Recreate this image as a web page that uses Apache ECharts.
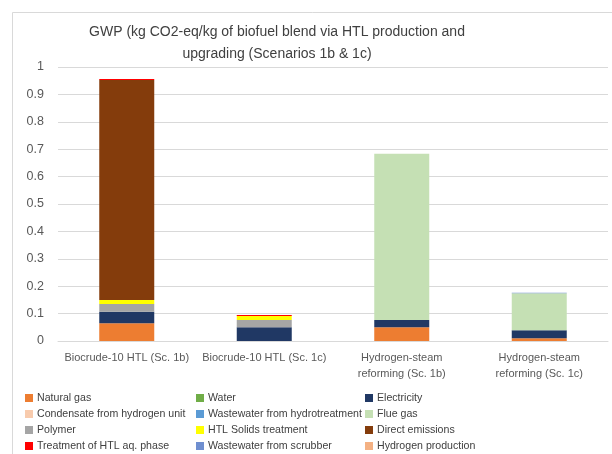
<!DOCTYPE html>
<html><head><meta charset="utf-8">
<script src="https://cdn.jsdelivr.net/npm/echarts@6/dist/echarts.min.js"></script>
<style>html,body{margin:0;padding:0;background:#fff}#c{width:612px;height:454px}</style>
</head><body><div id="c"></div>
<script>
const categories = ['Biocrude-10 HTL (Sc. 1b)', 'Biocrude-10 HTL (Sc. 1c)', 'Hydrogen-steam\nreforming (Sc. 1b)', 'Hydrogen-steam\nreforming (Sc. 1c)'];
const naturalGas = [0.065, 0, 0.050, 0.010];
const water = [0, 0, 0, 0];
const electricity = [0.042, 0.050, 0.027, 0.029];
const condensate = [0, 0, 0, 0];
const wastewaterHydro = [0, 0, 0, 0];
const flueGas = [0, 0, 0.606, 0.135];
const polymer = [0.028, 0.027, 0, 0];
const htlSolids = [0.015, 0.014, 0, 0];
const directEmissions = [0.803, 0, 0, 0];
const treatmentAq = [0.003, 0.004, 0, 0];
const wastewaterScrubber = [0, 0, 0, 0.002];
const hydrogenProduction = [0, 0, 0, 0];
const yTicks = [0, 0.1, 0.2, 0.3, 0.4, 0.5, 0.6, 0.7, 0.8, 0.9, 1];

const seriesDefs = [
  ['Natural gas', naturalGas, '#ED7D31'],
  ['Water', water, '#70AD47'],
  ['Electricity', electricity, '#203864'],
  ['Condensate from hydrogen unit', condensate, '#F8CBAD'],
  ['Wastewater from hydrotreatment', wastewaterHydro, '#5B9BD5'],
  ['Flue gas', flueGas, '#C5E0B4'],
  ['Polymer', polymer, '#A5A5A5'],
  ['HTL Solids treatment', htlSolids, '#FFFF00'],
  ['Direct emissions', directEmissions, '#843C0C'],
  ['Treatment of HTL aq. phase', treatmentAq, '#FF0000'],
  ['Wastewater from scrubber', wastewaterScrubber, '#6F8FD0'],
  ['Hydrogen production', hydrogenProduction, '#F4B183']
];
const FONT = 'Liberation Sans';
const TXT = '#595959';
const legendCol = (names, left) => ({
  orient: 'vertical', left: left, top: 390, height: 70, padding: 0,
  itemWidth: 8, itemHeight: 8, itemGap: 0,
  icon: 'rect', selectedMode: false, data: names,
  textStyle: {fontFamily: FONT, fontSize: 10.6, color: '#404040', lineHeight: 16, padding: [0,0,0,-1]}
});
const chart = echarts.init(document.getElementById('c'), null, {renderer: 'canvas'});
chart.setOption({
  backgroundColor: '#fff',
  animation: false,
  graphic: [{type: 'rect', shape: {x: 12.5, y: 12.5, width: 640, height: 460}, style: {fill: 'none', stroke: '#D9D9D9', lineWidth: 1}}],
  title: {
    text: 'GWP (kg CO2-eq/kg of biofuel blend via HTL production and\nupgrading (Scenarios 1b & 1c)',
    left: 272, top: 16, textAlign: 'center',
    textStyle: {fontFamily: FONT, fontSize: 14, fontWeight: 'normal', color: '#404040', lineHeight: 22}
  },
  legend: [
    legendCol(['Natural gas', 'Condensate from hydrogen unit', 'Polymer', 'Treatment of HTL aq. phase'], 25),
    legendCol(['Water', 'Wastewater from hydrotreatment', 'HTL Solids treatment', 'Wastewater from scrubber'], 196),
    legendCol(['Electricity', 'Flue gas', 'Direct emissions', 'Hydrogen production'], 365)
  ],
  grid: {left: 58, right: 4, top: 67, bottom: 113, containLabel: false},
  xAxis: {
    type: 'category', data: categories,
    axisLine: {show: true, lineStyle: {color: '#D9D9D9'}}, axisTick: {show: false},
    axisLabel: {fontFamily: FONT, fontSize: 11, color: TXT, margin: 9, lineHeight: 16, interval: 0}
  },
  yAxis: {
    type: 'value', min: yTicks[0], max: yTicks[yTicks.length-1], interval: 0.1,
    axisLine: {show: false}, axisTick: {show: false},
    splitLine: {lineStyle: {color: '#D9D9D9'}},
    axisLabel: {fontFamily: FONT, fontSize: 12.5, color: TXT, margin: 14,
      formatter: v => String(Math.round(v*10)/10)}
  },
  series: seriesDefs.map(([name, data, color]) => ({
    name, type: 'bar', stack: 'total', data, barWidth: '40%',
    itemStyle: {color}, emphasis: {disabled: true}
  }))
});
</script></body></html>
